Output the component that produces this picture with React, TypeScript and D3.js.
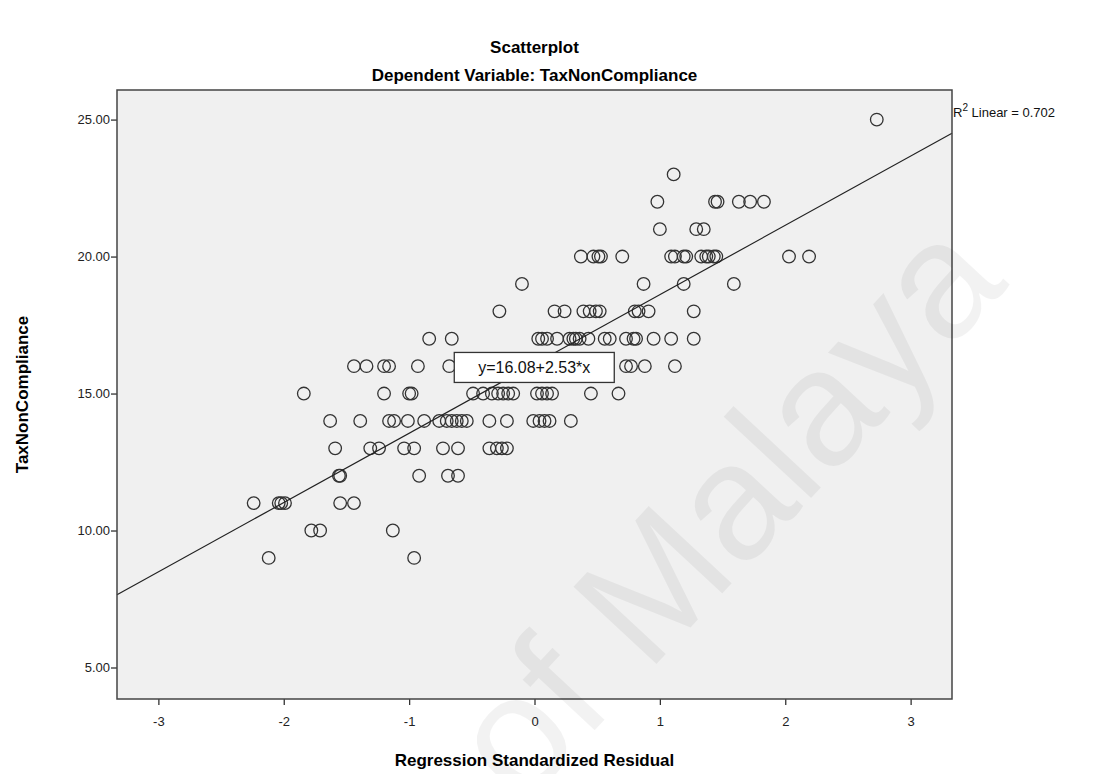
import React, { useRef, useEffect } from 'react';
import * as d3 from 'd3';

// values: each row is one TaxNonCompliance level
const rowY = [25, 23, 22, 21, 20, 19, 18, 17, 16, 15, 14, 13, 12, 11, 10, 9];
const rowX = [
  [2.73],
  [1.11],
  [0.98, 1.44, 1.46, 1.63, 1.72, 1.83],
  [1.0, 1.29, 1.35],
  [0.37, 0.47, 0.51, 0.53, 0.7, 1.09, 1.12, 1.19, 1.21, 1.33, 1.37, 1.39, 1.43, 1.45, 2.03, 2.19],
  [-0.1, 0.87, 1.19, 1.59],
  [-0.28, 0.16, 0.24, 0.39, 0.44, 0.49, 0.52, 0.8, 0.83, 0.91, 1.27],
  [-0.84, -0.66, 0.03, 0.06, 0.1, 0.18, 0.28, 0.31, 0.33, 0.36, 0.43, 0.56, 0.6, 0.73, 0.79, 0.81, 0.95, 1.09, 1.27],
  [-1.44, -1.34, -1.2, -1.16, -0.93, -0.68, 0.73, 0.77, 0.88, 1.12],
  [-1.84, -1.2, -1.0, -0.98, -0.49, -0.41, -0.34, -0.29, -0.25, -0.21, -0.17, 0.02, 0.06, 0.1, 0.14, 0.45, 0.67],
  [-1.63, -1.39, -1.16, -1.12, -1.01, -0.88, -0.76, -0.7, -0.66, -0.62, -0.58, -0.54, -0.36, -0.22, -0.01, 0.04, 0.08, 0.12, 0.29],
  [-1.59, -1.31, -1.24, -1.04, -0.96, -0.73, -0.61, -0.36, -0.3, -0.26, -0.22],
  [-1.56, -1.55, -0.92, -0.69, -0.61],
  [-2.24, -2.04, -2.02, -1.99, -1.55, -1.44],
  [-1.78, -1.71, -1.13],
  [-2.12, -0.96],
];
const xTicks = [-3, -2, -1, 0, 1, 2, 3];
const yTicks = [5, 10, 15, 20, 25];
const intercept = 16.08;
const slope = 2.53;
const rSquared = '0.702';

const App = () => {
  const svgRef = useRef<SVGSVGElement>(null);

  useEffect(() => {
    const width = 1117;
    const height = 774;
    const left = 117;
    const right = 952;
    const top = 90;
    const bottom = 699;
    const font = 'Liberation Sans, Arial, sans-serif';

    const svg = d3.select(svgRef.current).attr('width', width).attr('height', height);
    svg.selectAll('*').remove();

    const x = d3.scaleLinear().domain([-3.33, 3.33]).range([left, right]);
    const y = d3.scaleLinear().domain([3.85, 26.08]).range([bottom, top]);

    svg.append('rect').attr('width', width).attr('height', height).attr('fill', '#fff');

    // plot background
    svg
      .append('rect')
      .attr('x', left)
      .attr('y', top)
      .attr('width', right - left)
      .attr('height', bottom - top)
      .attr('fill', '#f0f0f0');

    // titles
    svg
      .append('text')
      .attr('x', (left + right) / 2)
      .attr('y', 53)
      .attr('text-anchor', 'middle')
      .attr('font-family', font)
      .attr('font-weight', 'bold')
      .attr('font-size', 17)
      .text('Scatterplot');
    svg
      .append('text')
      .attr('x', (left + right) / 2)
      .attr('y', 81)
      .attr('text-anchor', 'middle')
      .attr('font-family', font)
      .attr('font-weight', 'bold')
      .attr('font-size', 17)
      .text('Dependent Variable: TaxNonCompliance');

    // axes
    const xAxis = svg
      .append('g')
      .attr('transform', `translate(0,${bottom})`)
      .call(d3.axisBottom(x).tickValues(xTicks).tickSize(6).tickFormat((d) => String(d)));
    const yAxis = svg
      .append('g')
      .attr('transform', `translate(${left},0)`)
      .call(d3.axisLeft(y).tickValues(yTicks).tickSize(6).tickFormat((d) => (+d).toFixed(2)));
    [xAxis, yAxis].forEach((g) => {
      g.select('.domain').remove();
      g.selectAll('line').attr('stroke', '#333').attr('stroke-width', 1.3);
      g.selectAll('text')
        .attr('font-family', font)
        .attr('font-size', 13)
        .attr('fill', '#222');
    });
    xAxis.selectAll('text').attr('dy', '1.35em');
    yAxis.selectAll('text').attr('x', -7);

    svg
      .append('text')
      .attr('x', (left + right) / 2)
      .attr('y', 766)
      .attr('text-anchor', 'middle')
      .attr('font-family', font)
      .attr('font-weight', 'bold')
      .attr('font-size', 17)
      .text('Regression Standardized Residual');
    svg
      .append('text')
      .attr('transform', `translate(28,${(top + bottom) / 2}) rotate(-90)`)
      .attr('text-anchor', 'middle')
      .attr('font-family', font)
      .attr('font-weight', 'bold')
      .attr('font-size', 17)
      .text('TaxNonCompliance');

    // points
    const points = rowY.flatMap((v, i) => rowX[i].map((r) => ({ r, v })));
    svg
      .append('g')
      .selectAll('circle')
      .data(points)
      .enter()
      .append('circle')
      .attr('cx', (d) => x(d.r))
      .attr('cy', (d) => y(d.v))
      .attr('r', 6.3)
      .attr('fill', 'none')
      .attr('stroke', '#333')
      .attr('stroke-width', 1.3);

    // fit line
    const [x0, x1] = x.domain();
    svg
      .append('line')
      .attr('x1', x(x0))
      .attr('y1', y(intercept + slope * x0))
      .attr('x2', x(x1))
      .attr('y2', y(intercept + slope * x1))
      .attr('stroke', '#222')
      .attr('stroke-width', 1.2);

    // equation box
    const bx = x(-0.64);
    const by = y(16.5);
    svg
      .append('rect')
      .attr('x', bx)
      .attr('y', by)
      .attr('width', 160)
      .attr('height', 30)
      .attr('fill', '#fff')
      .attr('stroke', '#333')
      .attr('stroke-width', 1.3);
    svg
      .append('text')
      .attr('x', bx + 80)
      .attr('y', by + 21)
      .attr('text-anchor', 'middle')
      .attr('font-family', font)
      .attr('font-size', 16)
      .attr('fill', '#111')
      .text(`y=${intercept}+${slope}*x`);

    // frame
    svg
      .append('rect')
      .attr('x', left)
      .attr('y', top)
      .attr('width', right - left)
      .attr('height', bottom - top)
      .attr('fill', 'none')
      .attr('stroke', '#444')
      .attr('stroke-width', 1.5);

    // R squared label
    const rt = svg
      .append('text')
      .attr('x', right + 1)
      .attr('y', 117)
      .attr('font-family', font)
      .attr('font-size', 13)
      .attr('fill', '#111');
    rt.append('tspan').text('R');
    rt.append('tspan').attr('font-size', 10).attr('dy', -6).text('2');
    rt.append('tspan').attr('dy', 6).text(` Linear = ${rSquared}`);

    // watermark
    svg
      .append('text')
      .attr('transform', 'translate(1010,285) rotate(-47)')
      .attr('text-anchor', 'end')
      .attr('font-family', font)
      .attr('font-size', 165)
      .attr('fill', '#000')
      .attr('fill-opacity', 0.05)
      .text('University of Malaya');
  }, []);

  return (
    <div style={{ position: 'absolute', left: 0, top: 0 }}>
      <svg ref={svgRef} />
    </div>
  );
};

export default App;
